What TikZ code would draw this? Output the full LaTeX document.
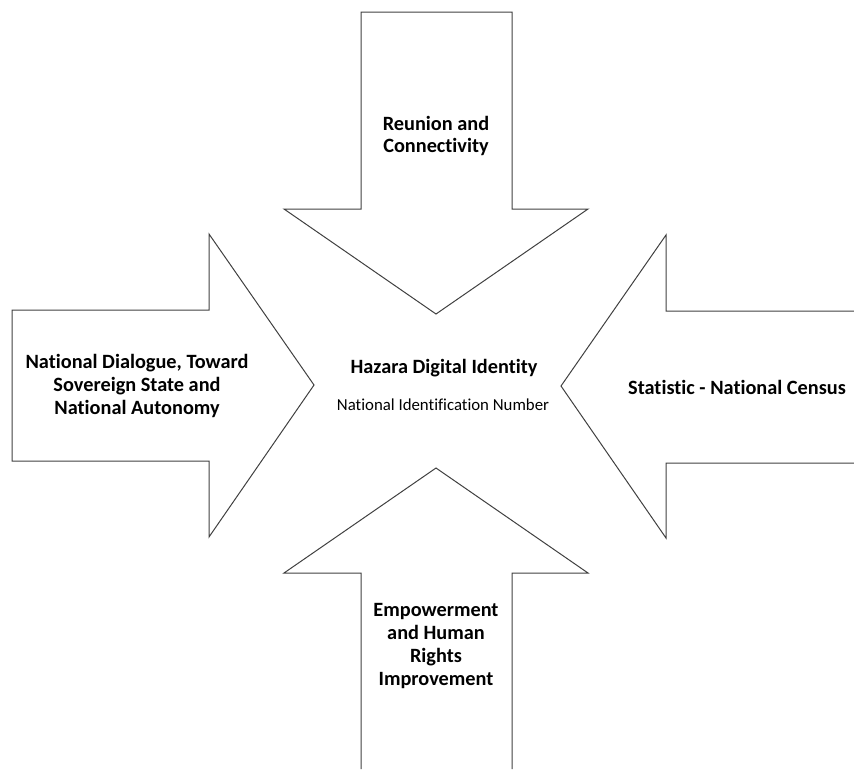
\documentclass[tikz,border=0pt]{standalone}
\usepackage{fontspec}
\setmainfont{Carlito}[Ligatures=NoCommon]

\begin{document}
\begin{tikzpicture}[x=1pt,y=-1pt,
    arrowshape/.style={draw=black!75,line width=1pt,line join=miter},
    arrowtext/.style={align=center,inner sep=0pt,
      font=\fontsize{20.3}{22.7}\selectfont\bfseries}]

      \useasboundingbox (0,0) rectangle (854,769);

      % the four block arrows
      \draw[arrowshape] (361,12) -- (512,12) -- (512,209) -- (588,209)
        -- (436,314) -- (284,209) -- (361,209) -- cycle;
      \draw[arrowshape] (361,769) -- (361,573) -- (284,573) -- (436,468)
        -- (588,573) -- (512,573) -- (512,769);
      \draw[arrowshape] (12,310) -- (209,310) -- (209,234) -- (314,385)
        -- (209,537) -- (209,461) -- (12,461) -- cycle;
      \draw[arrowshape] (854,311) -- (666,311) -- (666,235) -- (561,386)
        -- (666,538) -- (666,463) -- (854,463);

      % labels
      \node[arrowtext] (reunion) at (436,136) {Reunion and\\Connectivity};
      \node[arrowtext] (dialogue) at (137,386) {National Dialogue, Toward\\Sovereign State and\\National Autonomy};
      \node[arrowtext] (census) at (737,387) {Statistic - National Census};
      \node[arrowtext] (empower) at (436,646) {Empowerment\\and Human\\Rights\\Improvement};

      \node[arrowtext] (hazara) at (444,368) {Hazara Digital Identity};
      \node[inner sep=0pt,font=\fontsize{16.8}{20}\selectfont] (nin) at (443,405) {National Identification Number};

\end{tikzpicture}
\end{document}
